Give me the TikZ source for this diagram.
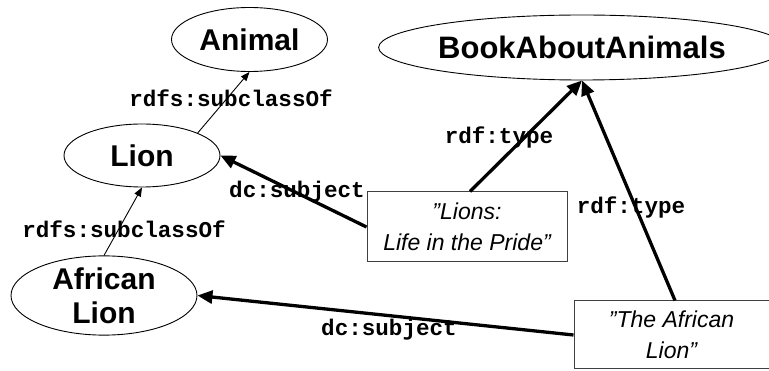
\documentclass[tikz,border=0pt]{standalone}
\usepackage{fontspec}
\setmainfont{Liberation Sans}
\newfontfamily\monofont{Liberation Mono}
\usetikzlibrary{shapes.geometric,arrows.meta}

% straight double quote, kept out of the TeX ligature mapping
\newcommand{\dq}{\char34\relax}

\tikzset{
  cls/.style={ellipse, draw, line width=0.9pt, inner sep=0pt, align=center,
    font=\fontsize{30}{34}\selectfont\bfseries},
  lit/.style={rectangle, draw=black!75, line width=1pt, inner sep=0pt, align=center,
    font=\fontsize{23}{30.5}\selectfont\itshape},
  prop/.style={inner sep=0pt, font=\fontsize{22.6}{26}\selectfont\monofont\bfseries},
  thinarr/.style={line width=0.9pt, -{Triangle[length=9pt,width=7pt]}},
  thickarr/.style={line width=3.3pt, -{Triangle[length=15pt,width=13pt]}}
}

\begin{document}
\begin{tikzpicture}[x=1pt,y=-1pt]
  \useasboundingbox (0,0) rectangle (769,371);

  % classes
  \node[cls, minimum width=156pt, minimum height=64pt] (animal) at (249.5,39.5) {Animal};
  \node[cls, minimum width=156pt, minimum height=63pt] (lion) at (142,155.5) {Lion};
  \node[cls, minimum width=186pt, minimum height=77pt] (african) at (104,295.5) {African\\Lion};
  \node[cls, minimum width=310pt, minimum height=65pt,
        font=\fontsize{31}{34}\selectfont\bfseries] (book) at (582,47.5) {BookAboutAnimals};

  % literal resources
  \node[lit, minimum width=200pt, minimum height=70pt] (pride) at (467,227) {\dq Lions:\\Life in the Pride\dq};
  \node[lit, minimum width=195pt, minimum height=68pt] (afrbook) at (671.5,335) {\dq The African\\Lion\dq};

  % subclass relations
  \draw[thinarr] (lion.22) -- (animal.south);
  \draw[thinarr] (african.north) -- (lion.south);

  % subject and type statements
  \draw[thickarr] (pride.west) -- (lion.east);
  \draw[thickarr] (afrbook.west) -- (african.east);
  \draw[thickarr] ([xshift=3pt]pride.north) -- (book.south);
  \draw[thickarr] ([xshift=3.5pt]afrbook.north) -- (book.south);

  % property labels
  \node[prop] (l1) at (231,98) {rdfs:subclassOf};
  \node[prop] (l2) at (124,229) {rdfs:subclassOf};
  \node[prop] (l3) at (297,192) {dc:subject};
  \node[prop] (l4) at (389,330) {dc:subject};
  \node[prop] (l5) at (499,137) {rdf:type};
  \node[prop] (l6) at (631,207) {rdf:type};
\end{tikzpicture}
\end{document}
